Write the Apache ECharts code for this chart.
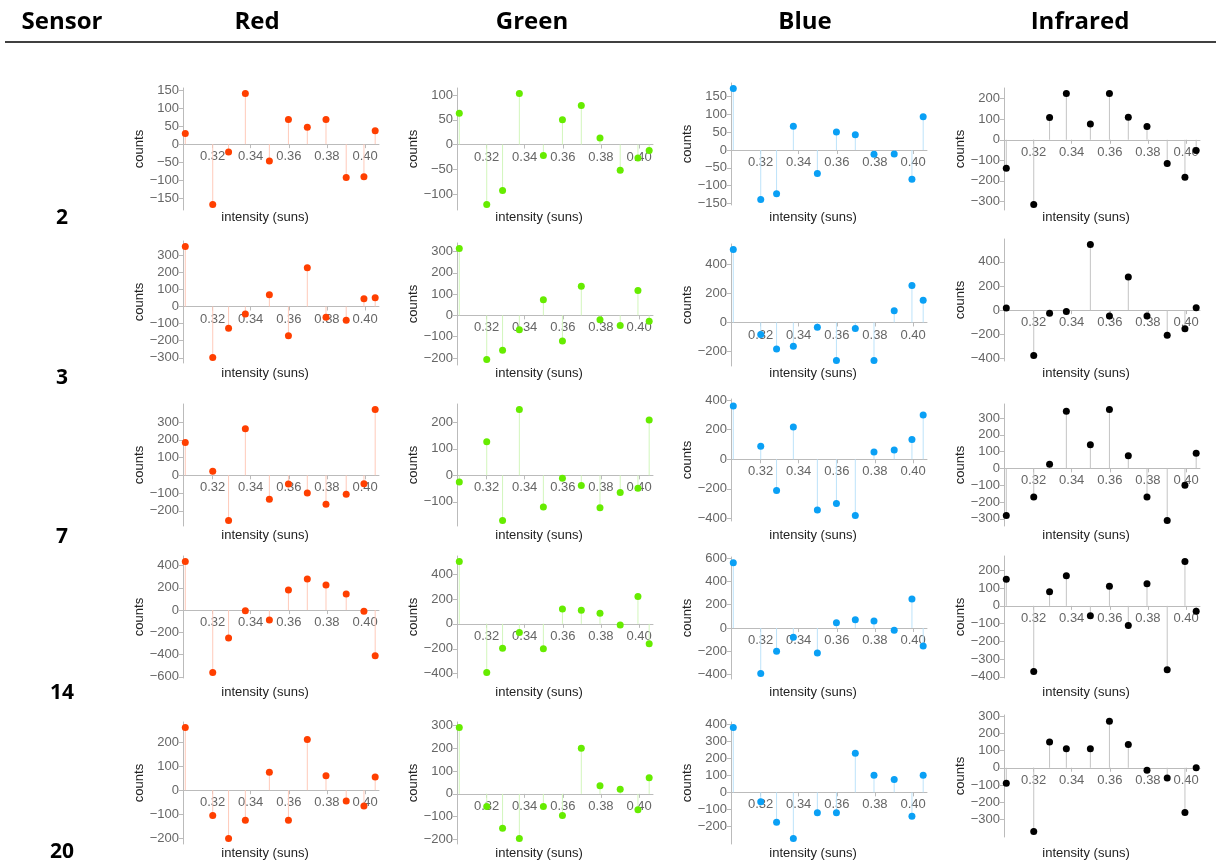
<!DOCTYPE html>
<html>
<head>
<meta charset="utf-8">
<title>Sensor counts vs intensity</title>
<script src="https://cdn.jsdelivr.net/npm/echarts@6/dist/echarts.min.js"></script>
<style>
  html, body { margin: 0; padding: 0; background: #fff; }
  #chart { width: 1216px; height: 865px; }
</style>
</head>
<body>
<div id="chart"></div>
<script>
  // intensity (suns) of each measurement, shared by every panel
  const intensity = [0.3057, 0.3201, 0.3284, 0.3372, 0.3498, 0.3598, 0.3697, 0.3795, 0.3901, 0.3994, 0.4053];

  const sensors = ['2', '3', '7', '14', '20'];
  const channels = ['Red', 'Green', 'Blue', 'Infrared'];

  // counts, one row per sensor
  const redCounts = [
    [30, -168, -22, 141, -47, 69, 47, 69, -93, -91, 37],
    [351, -298, -127, -43, 69, -171, 227, -63, -80, 45, 51],
    [184, 23, -254, 262, -135, -49, -99, -163, -106, -47, 370],
    [436, -560, -250, -5, -90, 180, 280, 225, 145, -10, -410],
    [260, -105, -200, -125, 75, -125, 210, 60, -45, -65, 55],
  ];
  const greenCounts = [
    [63, -121, -93, 103, -22, 50, 79, 13, -52, -27, -12],
    [314, -207, -164, -68, 73, -120, 137, -21, -47, 117, -28],
    [-25, 127, -170, 248, -119, -11, -38, -122, -65, -49, 209],
    [500, -390, -195, -70, -200, 120, 110, 85, -10, 220, -160],
    [290, -55, -150, -195, -55, -95, 200, 35, 20, -70, 70],
  ];
  const blueCounts = [
    [173, -139, -123, 67, -66, 51, 43, -12, -11, -82, 94],
    [499, -83, -182, -163, -32, -260, -41, -260, 80, 253, 152],
    [360, 88, -211, 218, -342, -299, -380, 49, 63, 133, 299],
    [560, -390, -200, -80, -215, 45, 70, 60, -20, 250, -155],
    [380, -55, -175, -270, -120, -120, 230, 100, 75, -140, 100],
  ];
  const infraredCounts = [
    [-139, -315, 108, 225, 77, 225, 110, 64, -115, -182, -52],
    [17, -375, -25, -11, 543, -48, 274, -48, -207, -154, 20],
    [-280, -170, 25, 340, 140, 350, 75, -170, -310, -100, 90],
    [150, -370, 80, 170, -55, 110, -110, 125, -360, 250, -30],
    [-90, -370, 150, 110, 110, 270, 135, -15, -60, -260, 0],
  ];

  // tick labels: x ticks, and y ticks per panel as [lowest, highest, step]
  const xTicks = [0.32, 0.34, 0.36, 0.38, 0.40];
  const redTicks = [[-150, 150, 50], [-300, 300, 100], [-200, 300, 100], [-600, 400, 200], [-200, 200, 100]];
  const greenTicks = [[-100, 100, 50], [-200, 300, 100], [-100, 200, 100], [-400, 400, 200], [-200, 300, 100]];
  const blueTicks = [[-150, 150, 50], [-200, 400, 200], [-400, 400, 200], [-400, 600, 200], [-200, 400, 100]];
  const infraredTicks = [[-300, 200, 100], [-400, 400, 200], [-300, 300, 100], [-400, 200, 100], [-300, 300, 100]];

  const allCounts = [redCounts, greenCounts, blueCounts, infraredCounts];
  const allTicks = [redTicks, greenTicks, blueTicks, infraredTicks];
  const dotColors = ['#FF3F00', '#66EC00', '#0AA0F5', '#000000'];
  const stemColors = ['#FFCABA', '#D2F6BC', '#BDE3FA', '#C4C4C4'];

  const colLeft = [183, 457, 731, 1004];
  const rowTop = [88, 244, 404, 556, 722];
  // small vertical nudges of single panels (row, then column), as in the source grid
  const panelShift = [
    [0, 0, -5, 0],
    [-3, -1, 0, -5],
    [0, 0, -5, 0],
    [0, 0, 1, 0],
    [0, 0, 0, -7],
  ];
  const xNameY = [217, 373, 535, 692, 853];
  const rowNameY = [218, 378, 537, 693, 852];
  const plotW = 196;
  const plotH = 122;

  const minus = (v) => (v < 0 ? '\u2212' + Math.abs(v) : String(v));

  const grid = [];
  const xAxis = [];
  const yAxis = [];
  const series = [];
  const graphic = [];

  // header
  const headX = [62, 257, 532, 805, 1080];
  ['Sensor'].concat(channels).forEach((t, i) => {
    graphic.push({
      type: 'text', x: headX[i], y: 22,
      style: { text: t, font: 'bold 24px "Open Sans"', fill: '#000', align: 'center', verticalAlign: 'middle' },
    });
  });
  graphic.push({
    type: 'line', shape: { x1: 5, y1: 42, x2: 1216, y2: 42 },
    style: { stroke: '#000', lineWidth: 1.3 },
  });

  sensors.forEach((s, r) => {
    graphic.push({
      type: 'text', x: 62, y: rowNameY[r],
      style: { text: s, font: 'bold 21px "Open Sans"', fill: '#000', align: 'center', verticalAlign: 'middle' },
    });

    channels.forEach((c, k) => {
      const idx = grid.length;
      const values = allCounts[k][r];
      const [tLo, tHi, step] = allTicks[k][r];
      const lo = Math.min(...values);
      const hi = Math.max(...values);
      const pad = (hi - lo) * 0.05;
      const yMin = Math.min(lo - pad, tLo - pad * 0.2);
      const yMax = Math.max(hi + pad, tHi + pad * 0.2);
      const yTicks = [];
      for (let v = tLo; v <= tHi; v += step) yTicks.push(v);

      grid.push({ left: colLeft[k], top: rowTop[r] + panelShift[r][k], width: plotW, height: plotH });

      // x axis drawn through y = 0
      xAxis.push({
        type: 'value', gridIndex: idx, position: 'bottom',
        offset: -plotH * (0 - yMin) / (yMax - yMin),
        min: intensity[0] - 0.0012,
        max: intensity[intensity.length - 1] + 0.002,
        axisLine: { onZero: false, lineStyle: { color: '#BBBBBB', width: 1 } },
        axisTick: { customValues: xTicks, length: 4, lineStyle: { color: '#BBBBBB' } },
        axisLabel: {
          customValues: xTicks, formatter: (v) => v.toFixed(2),
          color: '#666', fontSize: 13, fontFamily: 'Liberation Sans', margin: 6,
        },
        splitLine: { show: false },
      });

      yAxis.push({
        type: 'value', gridIndex: idx, min: yMin, max: yMax,
        name: 'counts', nameLocation: 'middle', nameRotate: 90, nameGap: 34,
        nameTextStyle: { color: '#222', fontSize: 13, fontFamily: 'Liberation Sans' },
        axisLine: { show: true, lineStyle: { color: '#BBBBBB', width: 1 } },
        axisTick: { show: true, customValues: yTicks, length: 4, lineStyle: { color: '#BBBBBB' } },
        axisLabel: {
          customValues: yTicks, formatter: minus,
          color: '#666', fontSize: 13, fontFamily: 'Liberation Sans', margin: 4,
        },
        splitLine: { show: false },
      });

      const pts = intensity.map((x, i) => [x, values[i]]);

      series.push({
        type: 'custom', xAxisIndex: idx, yAxisIndex: idx, data: pts, silent: true,
        renderItem: (params, api) => {
          const p0 = api.coord([api.value(0), 0]);
          const p1 = api.coord([api.value(0), api.value(1)]);
          return {
            type: 'line',
            shape: { x1: p0[0], y1: p0[1], x2: p1[0], y2: p1[1] },
            style: { stroke: stemColors[k], lineWidth: 1 },
          };
        },
      });
      series.push({
        type: 'scatter', xAxisIndex: idx, yAxisIndex: idx, data: pts,
        symbolSize: 7, itemStyle: { color: dotColors[k], opacity: 1 },
      });

      graphic.push({
        type: 'text', x: colLeft[k] + plotW / 2 - 16, y: xNameY[r],
        style: { text: 'intensity (suns)', font: '13px "Liberation Sans"', fill: '#222', align: 'center', verticalAlign: 'middle' },
      });
    });
  });

  const chart = echarts.init(document.getElementById('chart'));
  chart.setOption({
    animation: false,
    backgroundColor: '#fff',
    grid, xAxis, yAxis, series, graphic,
  });
</script>
</body>
</html>
